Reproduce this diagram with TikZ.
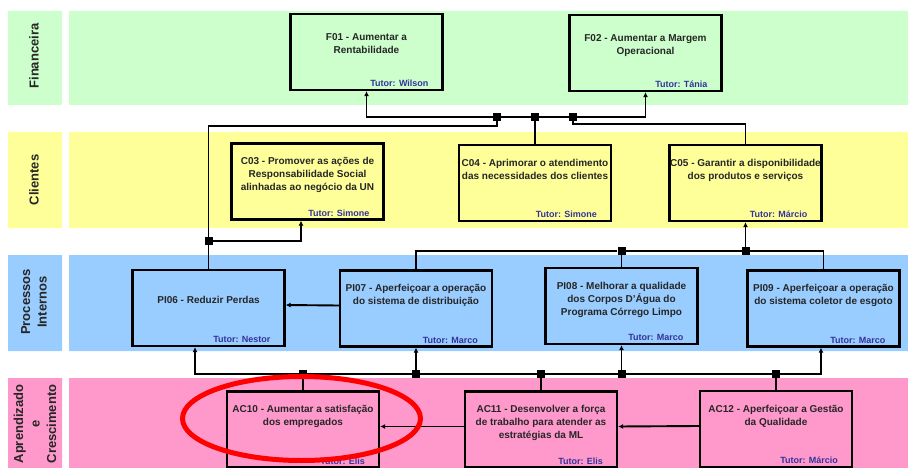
\documentclass[tikz,border=0pt]{standalone}
\usepackage{fontspec}
\setmainfont{Liberation Sans}
\usetikzlibrary{arrows.meta}
\definecolor{fingreen}{HTML}{CCFFCC}
\definecolor{cliyellow}{HTML}{FFFF99}
\definecolor{piblue}{HTML}{99CCFF}
\definecolor{acpink}{HTML}{FF99CC}
\definecolor{tutorblue}{HTML}{333399}
\newcommand{\titlefont}{\bfseries\fontsize{10}{13}\selectfont}
\newcommand{\tutorfont}{\bfseries\fontsize{9}{10}\selectfont}
\newcommand{\perspfont}{\bfseries\fontsize{13}{16.5}\selectfont}
\tikzset{
  objbox/.style={draw, line width=2.3pt, minimum width=152pt, minimum height=76pt, inner sep=0pt},
  objtitle/.style={anchor=north, yshift=-15pt, align=center, font=\titlefont, text=black!85, inner sep=0pt},
  tutor/.style={anchor=south east, xshift=-15pt, yshift=4pt, font=\tutorfont, text=tutorblue, inner sep=0pt},
  persp/.style={rotate=90, align=center, font=\perspfont, text=black!85},
  conn/.style={line width=1.9pt},
  junction/.style={fill=black, minimum size=8pt, inner sep=0pt},
  >={Latex[length=5pt,width=5pt]}
}

\begin{document}
\begin{tikzpicture}[x=1pt, y=-1pt]
\useasboundingbox (0,0) rectangle (908,468);

\fill[fingreen] (8,11) rectangle (62,105) (69,11) rectangle (908,105);
\fill[cliyellow] (8,132) rectangle (62,228) (69,132) rectangle (908,228);
\fill[piblue] (8,255) rectangle (62,351) (69,255) rectangle (908,351);
\fill[acpink] (8,378) rectangle (62,468) (69,378) rectangle (908,468);

\node[persp] (lblfin) at (34,56) {Financeira};
\node[persp] (lblcli) at (34,180) {Clientes};
\node[persp] (lblpi) at (34,302) {Processos\\Internos};
\node[persp] (lblac) at (35,424) {Aprendizado\\e\\Crescimento};

\node[objbox, fill=fingreen, label={[objtitle, yshift=-5pt]north:F01 - Aumentar a\\Rentabilidade}, label={[tutor]south east:Tutor: Wilson}] (f01) at (366.5,52) {};
\node[objbox, fill=fingreen, label={[objtitle, yshift=-5pt]north:F02 - Aumentar a Margem\\Operacional}, label={[tutor]south east:Tutor: T\'ania}] (f02) at (645.5,53) {};

\node[objbox, fill=cliyellow, label={[objtitle]north:C03 - Promover as a\c{c}\~oes de\\Responsabilidade Social\\alinhadas ao neg\'ocio da UN}, label={[tutor]south east:Tutor: Simone}] (c03) at (307.5,181.5) {};
\node[objbox, fill=cliyellow, label={[objtitle]north:C04 - Aprimorar o atendimento\\das necessidades dos clientes}, label={[tutor]south east:Tutor: Simone}] (c04) at (535,183) {};
\node[objbox, fill=cliyellow, label={[objtitle]north:C05 - Garantir a disponibilidade\\dos produtos e servi\c{c}os}, label={[tutor]south east:Tutor: M\'arcio}] (c05) at (745.5,183) {};

\node[objbox, fill=piblue, label={[objtitle, yshift=-12pt]north:PI06 - Reduzir Perdas}, label={[tutor]south east:Tutor: Nestor}] (pi06) at (208.5,308) {};
\node[objbox, fill=piblue, label={[objtitle]north:PI07 - Aperfei\c{c}oar a opera\c{c}\~ao\\do sistema de distribui\c{c}\~ao}, label={[tutor]south east:Tutor: Marco}] (pi07) at (416,308.5) {};
\node[objbox, fill=piblue, label={[objtitle]north:PI08 - Melhorar a qualidade\\dos Corpos D'\'Agua do\\Programa C\'orrego Limpo}, label={[tutor]south east:Tutor: Marco}] (pi08) at (621.5,306) {};
\node[objbox, fill=piblue, label={[objtitle]north:PI09 - Aperfei\c{c}oar a opera\c{c}\~ao\\do sistema coletor de esgoto}, label={[tutor]south east:Tutor: Marco}] (pi09) at (823.5,308.5) {};

\node[objbox, fill=acpink, label={[objtitle]north:AC10 - Aumentar a satisfa\c{c}\~ao\\dos empregados}, label={[tutor]south east:Tutor: Elis}] (ac10) at (303,429.5) {};
\node[objbox, fill=acpink, label={[objtitle]north:AC11 - Desenvolver a for\c{c}a\\de trabalho para atender as\\estrat\'egias da ML}, label={[tutor]south east:Tutor: Elis}] (ac11) at (541,429.5) {};
\node[objbox, fill=acpink, label={[objtitle]north:AC12 - Aperfei\c{c}oar a Gest\~ao\\da Qualidade}, label={[tutor]south east:Tutor: M\'arcio}] (ac12) at (776,429) {};

\node[junction] (jf1) at (497,117) {};
\node[junction] (jf2) at (c04.north |- 0,117) {};
\node[junction] (jf3) at (573,117) {};
\node[junction] (jc1) at (pi06.north |- 0,241) {};
\node[junction] (jc2) at (pi08.north |- 0,251) {};
\node[junction] (jc3) at (c05.south |- 0,251) {};
\node[junction] (ja1) at (ac10.north |- 0,374) {};
\node[junction] (ja2) at (pi07.south |- 0,374) {};
\node[junction] (ja3) at (ac11.north |- 0,374) {};
\node[junction] (ja4) at (pi08.south |- 0,374) {};
\node[junction] (ja5) at (ac12.north |- 0,374) {};

\draw[conn,->] (jf1) -| (f01.south);
\draw[conn,->] (jf1) -| (f02.south);
\draw[conn] (pi06.north) |- (jf1.south |- 0,126) -- (jf1);
\draw[conn] (jf2) -- (c04.north);
\draw[conn] (jf3) |- ([yshift=20pt]c05.north) -- (c05.north);

\draw[conn,->] (jc1) -| ([xshift=-6.5pt]c03.south);
\draw[conn] (pi07.north) |- (jc2) -- (pi08.north);
\draw[conn] (jc2) -| (pi09.north);
\draw[conn,->] (jc3) -- (c05.south);

\draw[conn,->] (ja1) -| ([xshift=-13.5pt]pi06.south);
\draw[conn,->] (ja1) -| ([xshift=-2.5pt]pi09.south);
\draw[conn] (ja1) -- (ac10.north);
\draw[conn,->] (ja2) -- (pi07.south);
\draw[conn] (ja3) -- (ac11.north);
\draw[conn,->] (ja4) -- (pi08.south);
\draw[conn] (ja5) -- (ac12.north);

\draw[conn,->] ([yshift=3pt]pi07.west) -- ([yshift=3pt]pi06.east);
\draw[conn,->] ([yshift=3pt]ac12.west) -- ([yshift=3pt]ac11.east);
\draw[conn,->] ([yshift=3pt]ac11.west) -- ([yshift=3pt]ac10.east);

\draw[red, line width=5pt] (301.5,418.5) ellipse [x radius=119, y radius=42];
\end{tikzpicture}
\end{document}
